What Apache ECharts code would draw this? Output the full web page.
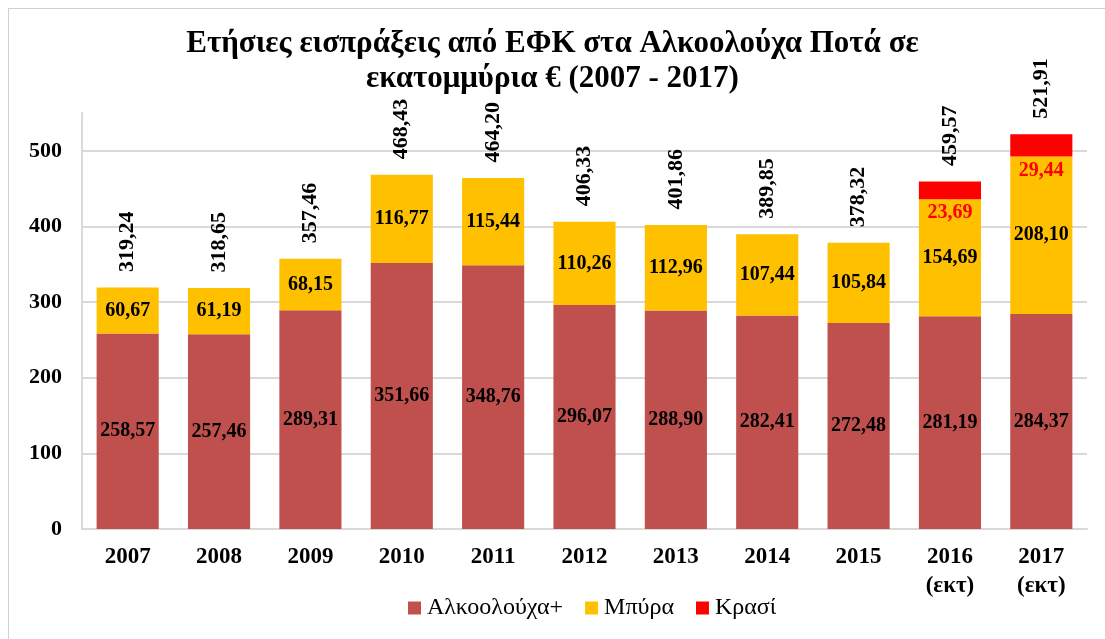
<!DOCTYPE html>
<html>
<head>
<meta charset="utf-8">
<script src="https://cdn.jsdelivr.net/npm/echarts@6/dist/echarts.min.js"></script>
<style>
  html, body { margin: 0; padding: 0; background: #fff; }
  #main { position: absolute; left: 0; top: 0; width: 1105px; height: 639px; }
  #frame { position: absolute; left: 8px; top: 8px; width: 1100px; height: 640px; border: 1px solid #d0d0d0; box-sizing: border-box; pointer-events: none; }
</style>
</head>
<body>
<div id="main"></div>
<div id="frame"></div>
<script>
// Ετήσιες εισπράξεις ΕΦΚ - αλκοολούχα ποτά
var years = ['2007', '2008', '2009', '2010', '2011', '2012', '2013', '2014', '2015', '2016\n(εκτ)', '2017\n(εκτ)'];
var alkoolouxa = [258.57, 257.46, 289.31, 351.66, 348.76, 296.07, 288.90, 282.41, 272.48, 281.19, 284.37];
var bira = [60.67, 61.19, 68.15, 116.77, 115.44, 110.26, 112.96, 107.44, 105.84, 154.69, 208.10];
var krasi = ['-', '-', '-', '-', '-', '-', '-', '-', '-', 23.69, 29.44];
var synolo = [319.24, 318.65, 357.46, 468.43, 464.20, 406.33, 401.86, 389.85, 378.32, 459.57, 521.91];

var FONT = '"Liberation Serif", "Times New Roman", serif';

function fmt(v) {
    return Number(v).toFixed(2).replace('.', ',');
}

var chart = echarts.init(document.getElementById('main'));

var option = {
    animation: false,
    title: {
        text: 'Ετήσιες εισπράξεις από ΕΦΚ στα Αλκοολούχα Ποτά σε\nεκατομμύρια € (2007 - 2017)',
        left: 'center',
        top: 21,
        textStyle: {
            fontFamily: FONT,
            fontSize: 31,
            fontWeight: 'bold',
            color: '#000',
            lineHeight: 35
        }
    },
    legend: {
        top: 591,
        left: 403,
        itemWidth: 13,
        itemHeight: 13,
        itemGap: 22,
        icon: 'rect',
        textStyle: { fontFamily: FONT, fontSize: 24, color: '#000', padding: [0, 0, 0, 1] },
        data: ['Αλκοολούχα+', 'Μπύρα', 'Κρασί']
    },
    grid: {
        left: 82,
        right: 18,
        top: 113,
        bottom: 110,
        containLabel: false
    },
    xAxis: {
        type: 'category',
        data: years,
        axisLine: { lineStyle: { color: '#d9d9d9', width: 2 } },
        axisTick: { show: false },
        axisLabel: {
            margin: 14,
            fontFamily: FONT,
            fontSize: 23,
            fontWeight: 'bold',
            color: '#000',
            lineHeight: 29
        }
    },
    yAxis: {
        type: 'value',
        min: 0,
        max: 550,
        interval: 100,
        axisLine: { show: true, lineStyle: { color: '#d9d9d9', width: 2 } },
        axisTick: { show: false },
        axisLabel: {
            margin: 20,
            showMaxLabel: false,
            fontFamily: FONT,
            fontSize: 22,
            fontWeight: 'bold',
            color: '#000'
        },
        splitLine: {
            lineStyle: {
                color: ['#d9d9d9', '#d9d9d9', '#d9d9d9', '#d9d9d9', '#d9d9d9', '#d9d9d9', 'rgba(0,0,0,0)'],
                width: 2
            }
        }
    },
    series: [
        {
            name: 'Αλκοολούχα+',
            type: 'bar',
            stack: 'efk',
            barCategoryGap: '32%',
            itemStyle: { color: '#C0504D' },
            label: {
                show: true,
                position: 'inside',
                fontFamily: FONT,
                fontSize: 20,
                fontWeight: 'bold',
                color: '#000',
                formatter: function (p) { return fmt(p.value); }
            },
            data: alkoolouxa
        },
        {
            name: 'Μπύρα',
            type: 'bar',
            stack: 'efk',
            itemStyle: { color: '#FFC000' },
            label: {
                show: true,
                position: 'inside',
                fontFamily: FONT,
                fontSize: 20,
                fontWeight: 'bold',
                color: '#000',
                formatter: function (p) { return fmt(p.value); }
            },
            data: bira
        },
        {
            name: 'Κρασί',
            type: 'bar',
            stack: 'efk',
            itemStyle: { color: '#FF0000' },
            label: {
                show: true,
                position: 'bottom',
                distance: 4,
                fontFamily: FONT,
                fontSize: 20,
                fontWeight: 'bold',
                color: '#FF0000',
                formatter: function (p) { return fmt(p.value); }
            },
            data: krasi
        },
        {
            name: 'Σύνολο',
            type: 'line',
            symbol: 'circle',
            symbolSize: 1,
            showSymbol: true,
            silent: true,
            itemStyle: { color: 'rgba(255,255,255,0)' },
            lineStyle: { width: 0, color: 'rgba(255,255,255,0)' },
            label: {
                show: true,
                position: 'top',
                distance: 15,
                rotate: 90,
                align: 'left',
                verticalAlign: 'middle',
                fontFamily: FONT,
                fontSize: 22,
                fontWeight: 'bold',
                color: '#000',
                formatter: function (p) { return fmt(p.value); }
            },
            data: synolo
        }
    ]
};

chart.setOption(option);
</script>
</body>
</html>
